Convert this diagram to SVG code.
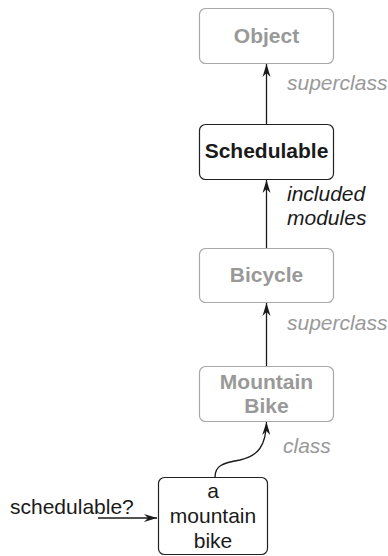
<svg xmlns="http://www.w3.org/2000/svg" width="388" height="556" viewBox="0 0 388 556">
<style>
.box{fill:#fff;stroke-width:1.2}
.gray{stroke:#a8a8a8}
.blk{stroke:#222}
.t{font-family:"Liberation Sans",Arial,sans-serif;font-size:21px;text-anchor:middle}
.b{font-weight:bold}
.gt{fill:#999}
.bt{fill:#1a1a1a}
.lbl{font-family:"Liberation Sans",Arial,sans-serif;font-size:21px;font-style:italic}
.conn{fill:none;stroke:#1a1a1a;stroke-width:1.3;marker-end:url(#ah)}
</style>
<defs>
<marker id="ah" viewBox="-14 -6 15 12" refX="0" refY="0" markerWidth="15" markerHeight="12" markerUnits="userSpaceOnUse" orient="auto">
<path d="M0,0 L-13,-4 L-9,0 L-13,4 z" fill="#1a1a1a"/>
</marker>
</defs>
<g id="connectors">
<line class="conn" x1="266.5" y1="124" x2="266.5" y2="64"/>
<line class="conn" x1="266.5" y1="248" x2="266.5" y2="180"/>
<line class="conn" x1="266.5" y1="366" x2="266.5" y2="303"/>
<path class="conn" d="M215,477 C215,466 222,463 240,460 C258,456 266,446 266.5,422"/>
<line class="conn" x1="98" y1="518" x2="157" y2="518"/>
</g>
<g id="node-object">
<rect class="box gray" x="199.5" y="8.5" width="134" height="55" rx="6"/>
<text class="t b gt" x="266.5" y="43">Object</text>
</g>
<g id="node-schedulable">
<rect class="box blk" x="199.5" y="124.5" width="134" height="55" rx="6"/>
<text class="t b bt" x="266.5" y="158">Schedulable</text>
</g>
<g id="node-bicycle">
<rect class="box gray" x="199.5" y="248.5" width="134" height="54" rx="6"/>
<text class="t b gt" x="266.5" y="282">Bicycle</text>
</g>
<g id="node-mountainbike">
<rect class="box gray" x="199.5" y="366.5" width="134" height="55" rx="6"/>
<text class="t b gt" x="266.5" y="389">Mountain</text>
<text class="t b gt" x="266.5" y="413">Bike</text>
</g>
<g id="node-instance">
<rect class="box blk" x="158.5" y="477.5" width="109" height="77" rx="6"/>
<text class="t bt" x="213" y="498">a</text>
<text class="t bt" x="213" y="523">mountain</text>
<text class="t bt" x="213" y="548">bike</text>
</g>
<g id="labels">
<text class="lbl gt" x="287" y="90">superclass</text>
<text class="lbl bt" x="287" y="201">included</text>
<text class="lbl bt" x="287" y="225">modules</text>
<text class="lbl gt" x="287" y="330">superclass</text>
<text class="lbl gt" x="283" y="453">class</text>
<text class="t bt" x="10" y="514" style="text-anchor:start">schedulable?</text>
</g>
</svg>
